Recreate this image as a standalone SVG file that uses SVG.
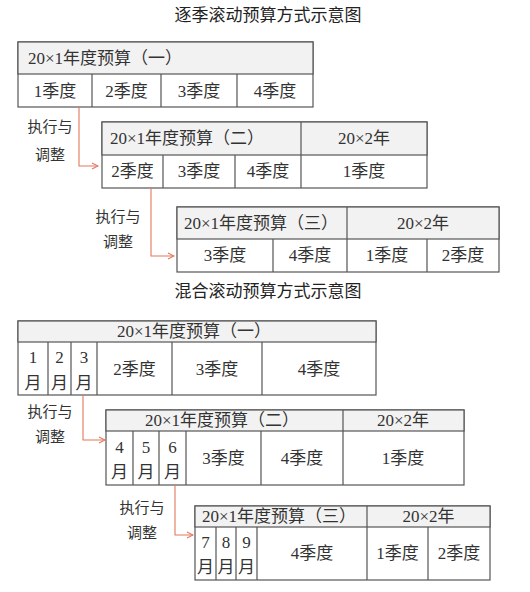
<svg xmlns="http://www.w3.org/2000/svg" width="530" height="592" viewBox="0 0 530 592">
<defs>
<style>
text{font-family:"Liberation Serif","Noto Sans CJK SC",serif;font-size:17px;fill:#333;text-anchor:middle;dominant-baseline:central}
.title{font-size:17px;fill:#222}
.lbl{font-size:15px;fill:#333}
.box{fill:#fff;stroke:#555;stroke-width:1.2}
.hd{fill:#f2f2f2;stroke:#555;stroke-width:1.2}
.ln{stroke:#555;stroke-width:1.2;fill:none}
.arr{stroke:#e2775a;stroke-width:1.1;fill:none}
</style>
<marker id="ah" markerWidth="8" markerHeight="8" refX="7" refY="4" orient="auto" markerUnits="userSpaceOnUse">
<path d="M1,1 L7,4 L1,7" fill="none" stroke="#e2775a" stroke-width="1.1"/>
</marker>
</defs>
<rect width="530" height="592" fill="#fff"/>

<text class="title" x="268" y="15">逐季滚动预算方式示意图</text>
<text class="title" x="268" y="291">混合滚动预算方式示意图</text>

<g id="s1-budget1">
<rect class="box" x="18" y="42" width="295" height="65"/>
<rect class="hd" x="18" y="42" width="295" height="32"/>
<path class="ln" d="M92,74V107M161,74V107M237,74V107"/>
<text x="105" y="58">20×1年度预算（一）</text>
<text x="55" y="91">1季度</text>
<text x="126.5" y="91">2季度</text>
<text x="199" y="91">3季度</text>
<text x="275" y="91">4季度</text>
</g>

<g id="s1-budget2">
<rect class="box" x="102" y="122" width="325" height="66"/>
<rect class="hd" x="102" y="122" width="325" height="33"/>
<path class="ln" d="M301,122V188M163,155V188M235,155V188"/>
<text x="187" y="138.5">20×1年度预算（二）</text>
<text x="364" y="138.5">20×2年</text>
<text x="132.5" y="171.5">2季度</text>
<text x="199" y="171.5">3季度</text>
<text x="268" y="171.5">4季度</text>
<text x="364" y="171.5">1季度</text>
</g>

<g id="s1-budget3">
<rect class="box" x="177" y="207" width="322" height="65"/>
<rect class="hd" x="177" y="207" width="322" height="32"/>
<path class="ln" d="M347,207V272M273,239V272M427,239V272"/>
<text x="261" y="223">20×1年度预算（三）</text>
<text x="423" y="223">20×2年</text>
<text x="225" y="255.5">3季度</text>
<text x="310" y="255.5">4季度</text>
<text x="387" y="255.5">1季度</text>
<text x="463" y="255.5">2季度</text>
</g>

<g id="s2-budget1">
<rect class="box" x="18" y="321" width="358" height="74"/>
<rect class="hd" x="18" y="321" width="358" height="21"/>
<path class="ln" d="M48,342V395M71,342V395M97,342V395M172,342V395M262,342V395"/>
<text x="194" y="331.5">20×1年度预算（一）</text>
<text x="33" y="357">1</text><text x="33" y="383">月</text>
<text x="59.5" y="357">2</text><text x="59.5" y="383">月</text>
<text x="84" y="357">3</text><text x="84" y="383">月</text>
<text x="134.5" y="369">2季度</text>
<text x="217" y="369">3季度</text>
<text x="319" y="369">4季度</text>
</g>

<g id="s2-budget2">
<rect class="box" x="106" y="410" width="358" height="75"/>
<rect class="hd" x="106" y="410" width="358" height="21"/>
<path class="ln" d="M343,410V485M133,431V485M159,431V485M186,431V485M261,431V485"/>
<text x="222" y="420.5">20×1年度预算（二）</text>
<text x="403" y="420.5">20×2年</text>
<text x="119.5" y="447">4</text><text x="119.5" y="472">月</text>
<text x="146" y="447">5</text><text x="146" y="472">月</text>
<text x="172.5" y="447">6</text><text x="172.5" y="472">月</text>
<text x="223.5" y="458">3季度</text>
<text x="302" y="458">4季度</text>
<text x="403" y="458">1季度</text>
</g>

<g id="s2-budget3">
<rect class="box" x="195" y="506" width="295" height="74"/>
<rect class="hd" x="195" y="506" width="295" height="21"/>
<path class="ln" d="M367,506V580M216,527V580M236,527V580M257,527V580M428,527V580"/>
<text x="279" y="516.5">20×1年度预算（三）</text>
<text x="428.5" y="516.5">20×2年</text>
<text x="205.5" y="542">7</text><text x="205.5" y="567">月</text>
<text x="226" y="542">8</text><text x="226" y="567">月</text>
<text x="246.5" y="542">9</text><text x="246.5" y="567">月</text>
<text x="312" y="553.5">4季度</text>
<text x="397.5" y="553.5">1季度</text>
<text x="459" y="553.5">2季度</text>
</g>

<g id="connectors">
<path class="arr" d="M79,107V166H98" marker-end="url(#ah)"/>
<path class="arr" d="M151,188V256H174" marker-end="url(#ah)"/>
<path class="arr" d="M83,395V440H105" marker-end="url(#ah)"/>
<path class="arr" d="M175,485V535H193" marker-end="url(#ah)"/>
<text class="lbl" x="50" y="127">执行与</text>
<text class="lbl" x="50" y="155">调整</text>
<text class="lbl" x="118" y="217">执行与</text>
<text class="lbl" x="118" y="242">调整</text>
<text class="lbl" x="50" y="412">执行与</text>
<text class="lbl" x="50" y="437">调整</text>
<text class="lbl" x="142" y="508">执行与</text>
<text class="lbl" x="142" y="533">调整</text>
</g>
</svg>
